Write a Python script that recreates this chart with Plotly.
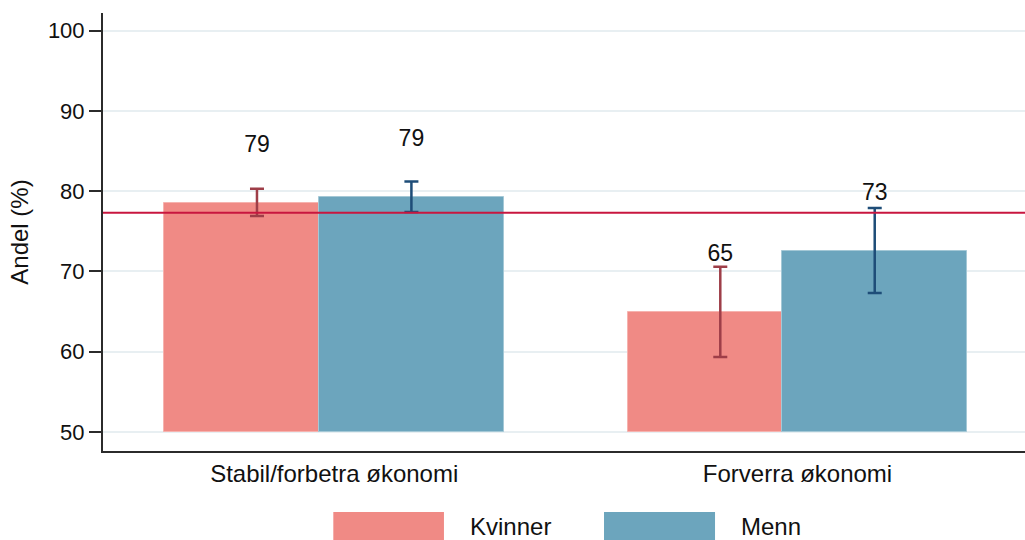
import plotly.graph_objects as go

# Shares by economic situation and gender
categories = ["Stabil/forbetra økonomi", "Forverra økonomi"]
kvinner = [78.55, 64.96]
kvinner_lo = [76.9, 59.35]
kvinner_hi = [80.3, 70.6]
menn = [79.3, 72.57]
menn_lo = [77.4, 67.3]
menn_hi = [81.2, 77.9]
overall = 77.3
baseline = 50
y_ticks = [50, 60, 70, 80, 90, 100]

FONT = "Liberation Sans, Arial, sans-serif"
C_K = "#F08A85"
C_M = "#6CA5BD"
C_K_ERR = "#9E3E48"
C_M_ERR = "#1E4D78"

group_x = [1, 2]
offset = 1 / 6
bar_w = 0.4
xk = [g - offset for g in group_x]
xm = [g + offset for g in group_x]

fig = go.Figure()

fig.add_trace(go.Bar(
    x=xk, y=[v - baseline for v in kvinner], base=baseline, width=bar_w,
    marker=dict(color=C_K, line=dict(color="#F6B3AF", width=1)),
    error_y=dict(type="data", symmetric=False,
                 array=[h - v for h, v in zip(kvinner_hi, kvinner)],
                 arrayminus=[v - l for l, v in zip(kvinner_lo, kvinner)],
                 color=C_K_ERR, thickness=2.5, width=7),
    name="Kvinner", showlegend=False, hoverinfo="skip",
))
fig.add_trace(go.Bar(
    x=xm, y=[v - baseline for v in menn], base=baseline, width=bar_w,
    marker=dict(color=C_M, line=dict(color="#A4C8D6", width=1)),
    error_y=dict(type="data", symmetric=False,
                 array=[h - v for h, v in zip(menn_hi, menn)],
                 arrayminus=[v - l for l, v in zip(menn_lo, menn)],
                 color=C_M_ERR, thickness=2.5, width=7),
    name="Menn", showlegend=False, hoverinfo="skip",
))

# value labels sit a fixed distance above each bar
label_gap = 7
fig.add_trace(go.Scatter(
    x=xk + xm,
    y=[v + label_gap for v in kvinner + menn],
    text=[f"{round(v)}" for v in kvinner + menn],
    mode="text", textposition="middle center",
    textfont=dict(family=FONT, size=23, color="#111111"),
    showlegend=False, hoverinfo="skip",
))

# overall reference line
fig.add_shape(type="line", xref="paper", x0=0, x1=1, yref="y", y0=overall, y1=overall,
              line=dict(color="#C8163F", width=2))

# legend drawn as large swatches below the plot
for x0, x1, col, name, tx in [(0.2498, 0.3698, C_K, "Kvinner", 0.3959),
                              (0.5434, 0.6638, C_M, "Menn", 0.6898)]:
    fig.add_shape(type="rect", xref="paper", yref="paper", x0=x0, x1=x1, y0=-0.139, y1=-0.25,
                  fillcolor=col, line=dict(color="white", width=0))
    fig.add_annotation(xref="paper", yref="paper", x=tx, y=-0.1735, text=name,
                       showarrow=False, xanchor="left", yanchor="middle",
                       font=dict(family=FONT, size=24, color="#111111"))

fig.update_layout(
    width=1025, height=540,
    margin=dict(l=103, r=0, t=13, b=89),
    paper_bgcolor="white", plot_bgcolor="white",
    barmode="overlay", bargap=0,
    font=dict(family=FONT, color="#111111"),
    xaxis=dict(range=[0.501, 2.491], tickvals=group_x, ticktext=categories,
               showgrid=False, zeroline=False, ticks="",
               showline=True, linecolor="#2B2B2B", linewidth=2,
               tickfont=dict(family=FONT, size=24, color="#111111")),
    yaxis=dict(range=[47.63, 102.2], tickvals=y_ticks,
               showgrid=True, gridcolor="#E8EFF2", gridwidth=2, zeroline=False,
               ticks="outside", ticklen=12, tickwidth=1.5, tickcolor="#2B2B2B",
               showline=True, linecolor="#2B2B2B", linewidth=2,
               tickfont=dict(family=FONT, size=22, color="#111111"),
               title=dict(text="Andel (%)", standoff=12,
                          font=dict(family=FONT, size=24, color="#111111"))),
)

fig.write_html("out.html")
